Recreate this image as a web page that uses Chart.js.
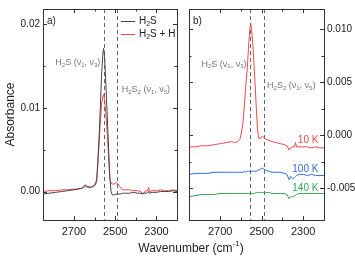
<!DOCTYPE html>
<html>
<head>
<meta charset="utf-8">
<script src="https://cdn.jsdelivr.net/npm/chart.js@4.4.1/dist/chart.umd.min.js"></script>
<style>
  body { margin: 0; background: #fff; font-family: "Liberation Sans", Arial, sans-serif; }
  #page { position: relative; width: 355px; height: 258px; overflow: hidden; }
  #boxA { position: absolute; left: 0; top: 0; width: 182px; height: 258px; }
  #boxB { position: absolute; left: 184px; top: 0; width: 171px; height: 258px; }
  #xtitle { position: absolute; left: 0; width: 382px; top: 241px; text-align: center; font-size: 12px; color: #222; }
  #xtitle sup { font-size: 8px; position: relative; top: -1px; vertical-align: super; line-height: 0; }
</style>
</head>
<body>
<div id="page">
  <div id="boxA"><canvas id="chartA"></canvas></div>
  <div id="boxB"><canvas id="chartB"></canvas></div>
  <div id="xtitle">Wavenumber (cm<sup>-1</sup>)</div>
</div>
<script>
// panel a) H2S vs H2S + H
const wnA = [2850, 2820, 2790, 2760, 2730, 2700, 2680, 2660, 2645, 2635, 2620, 2605, 2596, 2590, 2584,
  2578, 2572, 2566, 2560, 2556, 2551, 2545, 2538, 2532, 2526, 2520, 2514, 2505, 2495, 2485, 2475, 2465,
  2450, 2430, 2410, 2390, 2375, 2368, 2360, 2350, 2342, 2338, 2334, 2320, 2300, 2280, 2260, 2240, 2220, 2200];
const absH2S = [-0.0003, -0.0002, -0.0001, 0.0000, 0.0001, 0.0002, 0.0003, 0.0004, 0.0008, 0.0006, 0.0005,
  0.0006, 0.0008, 0.0012, 0.0035, 0.0065, 0.0100, 0.0138, 0.0163, 0.0171, 0.0160, 0.0128, 0.0088, 0.0052,
  0.0018, 0.0000, -0.0004, -0.0004, -0.0003, -0.0003, -0.0003, -0.0002, -0.0002, -0.0002, -0.0001, -0.0002,
  -0.0002, -0.0003, -0.0002, -0.0002, -0.0001, 0.0000, -0.0002, -0.0001, -0.0001, 0.0000, 0.0000, 0.0000, 0.0001, 0.0000];
const absH2SH = [0.0000, 0.0001, 0.0001, 0.0002, 0.0002, 0.0003, 0.0003, 0.0004, 0.0006, 0.0005, 0.0005,
  0.0007, 0.0010, 0.0014, 0.0032, 0.0058, 0.0082, 0.0104, 0.0113, 0.0116, 0.0110, 0.0092, 0.0068, 0.0042,
  0.0016, 0.0010, 0.0009, 0.0009, 0.0011, 0.0009, 0.0005, 0.0002, 0.0002, 0.0002, 0.0001, 0.0001,
  0.0000, -0.0003, -0.0001, 0.0001, 0.0001, 0.0005, 0.0000, 0.0001, 0.0001, 0.0002, 0.0001, 0.0001, 0.0002, 0.0001];

// panel b) temperature series
const wnB = [2850, 2820, 2790, 2760, 2730, 2700, 2670, 2645, 2630, 2615, 2605, 2598, 2590, 2583, 2576,
  2569, 2562, 2556, 2553, 2549, 2543, 2535, 2527, 2520, 2514, 2505, 2497, 2490, 2480, 2465, 2450, 2430,
  2410, 2390, 2378, 2368, 2360, 2350, 2342, 2337, 2332, 2320, 2300, 2280, 2260, 2240, 2220, 2200];
const abs10K = [-0.0011, -0.0011, -0.0010, -0.0010, -0.0009, -0.0008, -0.0007, -0.0006, -0.0007, -0.0006,
  -0.0004, 0.0002, 0.0012, 0.0030, 0.0048, 0.0064, 0.0088, 0.0102, 0.0105, 0.0100, 0.0087, 0.0060, 0.0030,
  0.0005, -0.0003, -0.0003, -0.0001, -0.0002, -0.0004, -0.0005, -0.0006, -0.0007, -0.0008, -0.0009, -0.0010,
  -0.0014, -0.0012, -0.0011, -0.0011, -0.0007, -0.0011, -0.0011, -0.0011, -0.0011, -0.0012, -0.0011, -0.0012, -0.0012];
const abs100K = [-0.0037, -0.0036, -0.0036, -0.0036, -0.0035, -0.0035, -0.0035, -0.0035, -0.0035, -0.0035,
  -0.0035, -0.0035, -0.0035, -0.0034, -0.0035, -0.0034, -0.0034, -0.0034, -0.0034, -0.0034, -0.0034, -0.0034,
  -0.0034, -0.0033, -0.0033, -0.0032, -0.0031, -0.0032, -0.0033, -0.0034, -0.0035, -0.0035, -0.0035, -0.0036,
  -0.0037, -0.0042, -0.0039, -0.0041, -0.0040, -0.0039, -0.0038, -0.0037, -0.0037, -0.0038, -0.0037, -0.0038, -0.0038, -0.0038];
const abs140K = [-0.0058, -0.0057, -0.0056, -0.0056, -0.0056, -0.0055, -0.0055, -0.0055, -0.0055, -0.0055,
  -0.0055, -0.0055, -0.0055, -0.0055, -0.0055, -0.0055, -0.0055, -0.0055, -0.0055, -0.0055, -0.0055, -0.0055,
  -0.0054, -0.0054, -0.0054, -0.0054, -0.0054, -0.0054, -0.0054, -0.0054, -0.0055, -0.0055, -0.0055, -0.0055,
  -0.0056, -0.0060, -0.0058, -0.0058, -0.0057, -0.0057, -0.0056, -0.0055, -0.0055, -0.0055, -0.0055, -0.0055, -0.0055, -0.0055];

// dashed reference lines (cm-1)
const bandLines = [2556, 2491];

const FONT = '"Liberation Sans", Arial, sans-serif';
const GREY = '#777';

const pts = (xs, ys) => xs.map((x, i) => ({ x, y: ys[i] }));
const isMult = (v, step) => Math.abs(v / step - Math.round(v / step)) < 1e-6;

// text with subscripts: parts = [[text, isSub], ...]
function richText(ctx, parts, x, y, align, size, color) {
  const subSize = Math.round(size * 0.68);
  let w = 0;
  parts.forEach(([t, s]) => {
    ctx.font = (s ? subSize : size) + 'px ' + FONT;
    w += ctx.measureText(t).width;
  });
  let cx = align === 'right' ? x - w : x;
  ctx.fillStyle = color;
  ctx.textBaseline = 'middle';
  ctx.textAlign = 'left';
  parts.forEach(([t, s]) => {
    ctx.font = (s ? subSize : size) + 'px ' + FONT;
    ctx.fillText(t, cx, s ? y + size * 0.3 : y);
    cx += ctx.measureText(t).width;
  });
}

const panelPlugin = {
  id: 'panel',
  beforeDatasetsDraw(chart, args, opts) {
    const { ctx, chartArea: a, scales: { x } } = chart;
    ctx.save();
    ctx.strokeStyle = '#666';
    ctx.lineWidth = 1;
    ctx.setLineDash([4, 3]);
    bandLines.forEach(w => {
      const px = Math.round(x.getPixelForValue(w)) + 0.5;
      ctx.beginPath();
      ctx.moveTo(px, a.top);
      ctx.lineTo(px, a.bottom);
      ctx.stroke();
    });
    ctx.restore();
  },
  afterDraw(chart, args, opts) {
    const { ctx, chartArea: a, scales: { x, y } } = chart;
    ctx.save();
    // frame
    ctx.strokeStyle = '#333';
    ctx.lineWidth = 1;
    ctx.strokeRect(Math.round(a.left) + 0.5, Math.round(a.top) + 0.5,
      Math.round(a.right - a.left), Math.round(a.bottom - a.top));
    // inward ticks
    ctx.beginPath();
    x.ticks.forEach(t => {
      if (!isMult(t.value, 100) || t.value <= x.min || t.value >= x.max) return;
      const len = isMult(t.value - 100, 200) ? 4 : 2.5;
      const px = Math.round(x.getPixelForValue(t.value)) + 0.5;
      ctx.moveTo(px, a.bottom); ctx.lineTo(px, a.bottom - len);
      ctx.moveTo(px, a.top); ctx.lineTo(px, a.top + len);
    });
    y.ticks.forEach(t => {
      if (!isMult(t.value, opts.minor) || t.value <= y.min || t.value >= y.max) return;
      const len = isMult(t.value, opts.major) ? 4 : 2.5;
      const py = Math.round(y.getPixelForValue(t.value)) + 0.5;
      ctx.moveTo(a.left, py); ctx.lineTo(a.left + len, py);
      ctx.moveTo(a.right, py); ctx.lineTo(a.right - len, py);
    });
    ctx.stroke();
    // panel tag
    ctx.fillStyle = '#222';
    ctx.font = '10px ' + FONT;
    ctx.textBaseline = 'middle';
    ctx.fillText(opts.tag, a.left + 4, a.top + 12);
    // band notes
    (opts.notes || []).forEach(n => {
      richText(ctx, n.parts, x.getPixelForValue(n.x), y.getPixelForValue(n.y), n.align, 9, GREY);
    });
    // series labels
    (opts.labels || []).forEach(n => {
      ctx.font = '10px ' + FONT;
      ctx.fillStyle = n.color;
      ctx.textAlign = 'right';
      ctx.textBaseline = 'middle';
      ctx.fillText(n.text, x.getPixelForValue(n.x), y.getPixelForValue(n.y));
    });
    // legend
    if (opts.legend) {
      opts.legend.forEach((l, i) => {
        const ly = a.top + 12 + i * 13;
        ctx.strokeStyle = l.color;
        ctx.lineWidth = 1;
        ctx.beginPath();
        ctx.moveTo(a.right - 56, ly + 0.5);
        ctx.lineTo(a.right - 42, ly + 0.5);
        ctx.stroke();
        richText(ctx, l.parts, a.right - 38, ly, 'left', 10, '#222');
      });
    }
    ctx.restore();
  }
};

function makeChart(id, datasets, cfg) {
  return new Chart(document.getElementById(id), {
    type: 'line',
    data: { datasets },
    options: {
      responsive: true,
      maintainAspectRatio: false,
      animation: false,
      layout: { padding: cfg.padding },
      elements: { point: { radius: 0 }, line: { borderWidth: 1, tension: 0 } },
      plugins: { legend: { display: false }, tooltip: { enabled: false }, panel: cfg.panel },
      scales: {
        x: {
          type: 'linear', reverse: true, min: 2200, max: 2850,
          grid: { display: false, drawTicks: false },
          border: { display: false },
          afterFit: s => { s.height = 38; },
          ticks: {
            stepSize: 100, autoSkip: false, maxRotation: 0, padding: 5,
            color: '#222', font: { family: FONT, size: 11 },
            callback: v => (isMult(v, 100) && isMult(v - 100, 200)) ? String(v) : ''
          }
        },
        y: {
          type: 'linear', position: cfg.yPos, min: cfg.yMin, max: cfg.yMax,
          grid: { display: false, drawTicks: false },
          border: { display: false },
          afterFit: s => { s.width = cfg.yWidth; },
          title: cfg.yTitle ? { display: true, text: 'Absorbance', color: '#222',
            font: { family: FONT, size: 12 }, padding: { top: 3, bottom: 0 } } : { display: false },
          ticks: {
            stepSize: cfg.panel.minor, autoSkip: false, padding: 3,
            color: '#222', font: { family: FONT, size: 10 },
            callback: v => {
              if (!isMult(v, cfg.panel.major)) return '';
              return Math.abs(v) < 1e-9 ? (0).toFixed(cfg.digits) : v.toFixed(cfg.digits);
            }
          }
        }
      }
    },
    plugins: [panelPlugin]
  });
}

makeChart('chartA', [
  { label: 'H2S', data: pts(wnA, absH2S), borderColor: '#444' },
  { label: 'H2S + H', data: pts(wnA, absH2SH), borderColor: '#f0484a' }
], {
  padding: { top: 3, right: 3, left: 0, bottom: 0 },
  yPos: 'left', yMin: -0.0034, yMax: 0.0218, yWidth: 43, yTitle: true, digits: 2,
  panel: {
    tag: 'a)', major: 0.01, minor: 0.005,
    notes: [
      { parts: [['H', 0], ['2', 1], ['S (ν', 0], ['1', 1], [', ν', 0], ['3', 1], [')', 0]], x: 2572, y: 0.0154, align: 'right' },
      { parts: [['H', 0], ['2', 1], ['S', 0], ['2', 1], [' (ν', 0], ['1', 1], [', ν', 0], ['5', 1], [')', 0]], x: 2468, y: 0.0122, align: 'left' }
    ],
    legend: [
      { color: '#444', parts: [['H', 0], ['2', 1], ['S', 0]] },
      { color: '#f0484a', parts: [['H', 0], ['2', 1], ['S + H', 0]] }
    ]
  }
});

makeChart('chartB', [
  { label: '10 K', data: pts(wnB, abs10K), borderColor: '#f0484a' },
  { label: '100 K', data: pts(wnB, abs100K), borderColor: '#2f6fd6' },
  { label: '140 K', data: pts(wnB, abs140K), borderColor: '#35a857' }
], {
  padding: { top: 3, right: 0, left: 3, bottom: 0 },
  yPos: 'right', yMin: -0.0080, yMax: 0.0119, yWidth: 31, yTitle: false, digits: 3,
  panel: {
    tag: 'b)', major: 0.005, minor: 0.0025,
    notes: [
      { parts: [['H', 0], ['2', 1], ['S (ν', 0], ['1', 1], [', ν', 0], ['3', 1], [')', 0]], x: 2573, y: 0.0067, align: 'right' },
      { parts: [['H', 0], ['2', 1], ['S', 0], ['2', 1], [' (ν', 0], ['1', 1], [', ν', 0], ['5', 1], [')', 0]], x: 2474, y: 0.0047, align: 'left' }
    ],
    labels: [
      { text: '10 K', color: '#f0484a', x: 2227, y: -0.0005 },
      { text: '100 K', color: '#2f6fd6', x: 2227, y: -0.0032 },
      { text: '140 K', color: '#35a857', x: 2227, y: -0.00505 }
    ]
  }
});
</script>
</body>
</html>
